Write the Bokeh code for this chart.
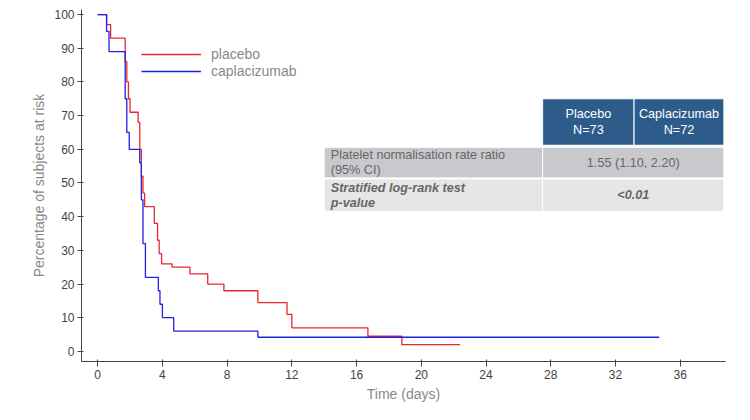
from bokeh.plotting import figure
from bokeh.models import Legend, LegendItem, Range1d, FixedTicker
from bokeh.embed import file_html
from bokeh.resources import INLINE

# Kaplan-Meier step data (time in days, % at risk)
placebo_t = [0, 0.55, 0.8, 1.7, 1.8, 1.9, 2.0, 2.5, 2.6, 2.7, 2.8, 2.9, 3.5, 3.7, 3.8, 3.95, 4.6, 5.7, 6.8, 7.8, 9.9, 11.7, 12.0, 16.7, 18.8, 22.4]
placebo_s = [100, 97, 93, 86, 80, 75, 71, 68, 60, 52, 47, 43, 38, 33, 29, 26, 25, 23, 20, 18, 14.5, 11, 7, 4.5, 2, 2]
capla_t = [0, 0.55, 0.7, 1.05, 1.7, 1.8, 1.95, 2.6, 2.7, 2.8, 2.95, 3.75, 3.85, 4.0, 4.7, 9.9, 34.7]
capla_s = [100, 95, 89, 89, 75, 65, 60, 56, 45, 32, 22, 18, 14, 10, 6, 4.2, 4.2]

header = ["Placebo\nN=73", "Caplacizumab\nN=72"]
row_labels = ["Platelet normalisation rate ratio\n(95% CI)", "Stratified log-rank test\np-value"]
row_values = ["1.55 (1.10, 2.20)", "<0.01"]

p = figure(width=734, height=404, output_backend="svg", toolbar_location=None,
           x_range=Range1d(-1, 38.8), y_range=Range1d(-3.0, 101.5),
           min_border_left=81, min_border_right=9, min_border_top=9, min_border_bottom=42)
p.outline_line_color = None
p.grid.visible = False
p.background_fill_color = "white"

for ax in (p.xaxis[0], p.yaxis[0]):
    ax.axis_line_color = "#444444"
    ax.major_tick_line_color = "#444444"
    ax.minor_tick_line_color = None
    ax.major_label_text_color = "#444444"
    ax.major_label_text_font = "Liberation Sans"
    ax.major_label_text_font_size = "9pt"
    ax.axis_label_text_color = "#888888"
    ax.axis_label_text_font = "Liberation Sans"
    ax.axis_label_text_font_size = "10.5pt"
    ax.axis_label_text_font_style = "normal"
    ax.major_label_standoff = 3
    ax.axis_label_standoff = 4
p.xaxis.ticker = FixedTicker(ticks=list(range(0, 37, 4)))
p.yaxis.ticker = FixedTicker(ticks=list(range(0, 101, 10)))
p.xaxis.axis_label = "Time (days)"
p.yaxis.axis_label = "Percentage of subjects at risk"
p.xaxis.major_tick_out = 5
p.yaxis.major_tick_out = 4

r1 = p.step(placebo_t, placebo_s, mode="after", line_color="#e8282e", line_width=1.3)
r2 = p.step(capla_t, capla_s, mode="after", line_color="#2020e0", line_width=1.3)

leg = Legend(items=[LegendItem(label="placebo", renderers=[r1]), LegendItem(label="caplacizumab", renderers=[r2])],
             location=(60, 282), border_line_color=None, background_fill_alpha=0,
             glyph_width=60, glyph_height=14, label_height=14, label_text_color="#888888",
             label_text_font="Liberation Sans", label_text_font_size="10.5pt",
             spacing=1, padding=0, label_standoff=10)
p.add_layout(leg)

# table (data coordinates)
hx = [(27.5, 33.15), (33.15, 38.7)]
for (l, r), t in zip(hx, header):
    p.quad(left=l, right=r, bottom=61.2, top=75, fill_color="#2e5c8a", line_color="white", line_width=1)
    p.text(x=[(l + r) / 2], y=[68.1], text=[t], text_align="center", text_baseline="middle",
           text_color="white", text_font_size="9.5pt", text_line_height=1.1)
rows = [(51.5, 60.6, "#c9c9cd", "normal"), (41.5, 51.2, "#e6e6e6", "bold italic")]
for (b, t, c, st), lab, val in zip(rows, row_labels, row_values):
    p.quad(left=14.0, right=27.5, bottom=b, top=t, fill_color=c, line_color="white", line_width=1)
    p.quad(left=27.5, right=38.7, bottom=b, top=t, fill_color=c, line_color="white", line_width=1)
    p.text(x=[14.4], y=[(b + t) / 2], text=[lab], text_align="left", text_baseline="middle",
           text_color="#666666", text_font_size="9.5pt", text_font_style=st, text_line_height=1.1)
    p.text(x=[33.1], y=[(b + t) / 2], text=[val], text_align="center", text_baseline="middle",
           text_color="#666666", text_font_size="9.5pt", text_font_style=st)

open("out.html", "w").write(file_html(p, INLINE))
